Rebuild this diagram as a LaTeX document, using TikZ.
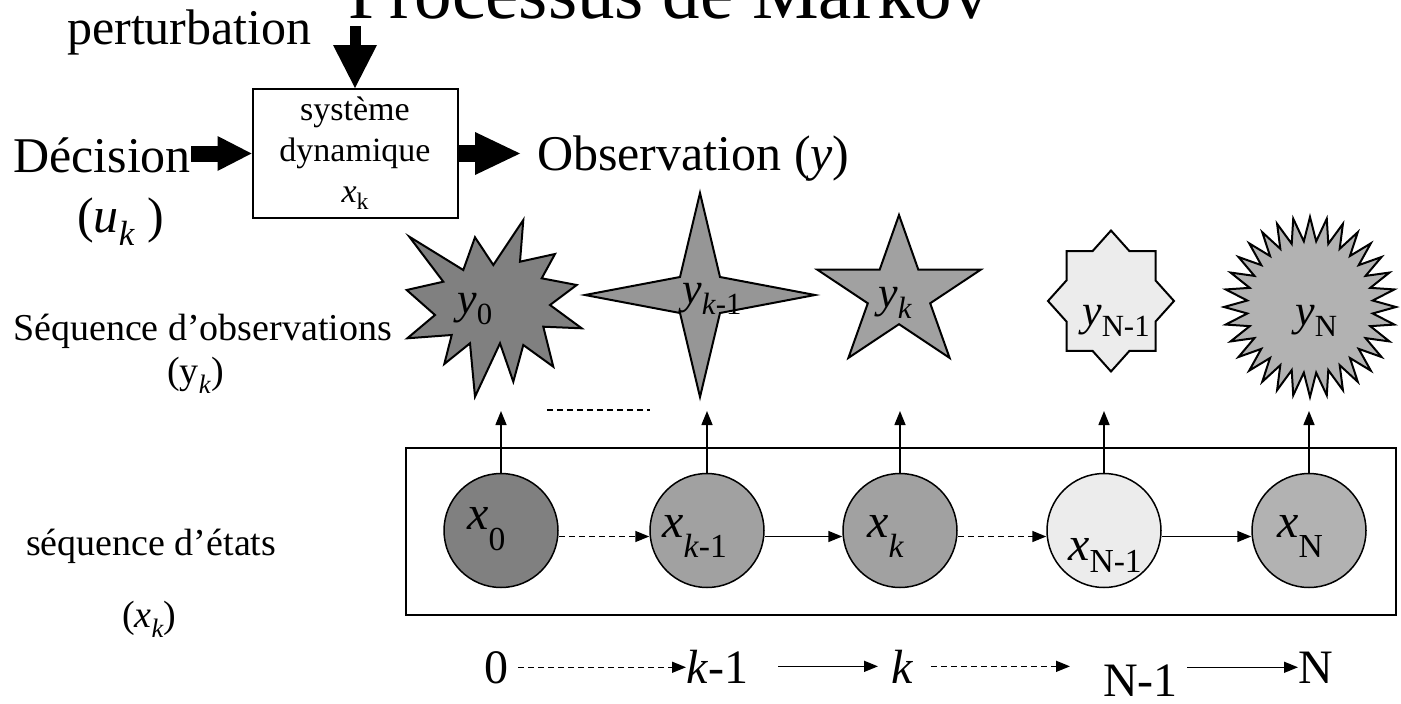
\documentclass[tikz,border=0pt]{standalone}
\usepackage{fontspec}
\setmainfont{Liberation Serif}
\usetikzlibrary{arrows.meta}
% lowered, reduced subscript: optional drop, then the text
\newcommand\sub[2][0.27em]{\raisebox{-#1}{\scalebox{0.7}{#2}}}
\newcommand\pxfont[1]{\fontsize{#1}{1.2\dimexpr#1pt\relax}\selectfont}
\definecolor{gA}{gray}{0.50}
\definecolor{gB}{gray}{0.59}
\definecolor{gC}{gray}{0.63}
\definecolor{gD}{gray}{0.925}
\definecolor{gE}{gray}{0.70}
\begin{document}
\begin{tikzpicture}[x=1pt,y=-1pt,
  lbl/.style={anchor=base west, inner sep=0pt},
  thinline/.style={line width=1.5pt},
  tip/.style={-{Triangle[length=14pt,width=11pt]}},
  dashline/.style={dash pattern=on 6pt off 4pt},
  outline/.style={draw=black, line width=2pt, line join=miter},
  statenode/.style={circle, draw=black, line width=1.5pt, minimum size=114pt, inner sep=0pt},
  fatA/.style={line width=16pt, -{Triangle[length=34pt,width=35pt,line width=0pt]}},
  fatB/.style={line width=17pt, -{Triangle[length=45pt,width=43pt,line width=0pt]}},
  fatC/.style={line width=11pt, -{Triangle[length=43pt,width=44pt,line width=0pt]}}]
\useasboundingbox (0,0) rectangle (1401,704);

% ---------- system block ----------
\node[lbl, font=\pxfont{75}] (title) at (348,18) {Processus de Markov};
\node[lbl, font=\pxfont{50}] (pert) at (67,45) {perturbation};
\node[lbl, font=\pxfont{50}] (dec) at (13,172) {Décision};
\node[lbl, font=\pxfont{50}] (uk) at (77,232) {(\textit{u}\sub{\textit{k}} )};
\node[lbl, font=\pxfont{50}] (obs) at (537,170) {Observation (\textit{y})};
\node[draw=black, line width=2pt, minimum width=205pt, minimum height=129pt,
      inner sep=0pt, align=center, font=\fontsize{34}{41}\selectfont]
  (box) at (355,153.5) {système\\dynamique\\\textit{x}\sub[0.2em]{k}};

\coordinate (ptop) at (355,26);
\draw[fatC] (ptop) -- (box.north);
\draw[fatA] (dec.east |- box.west) -- (box.west);
\draw[fatB, shorten >=17pt] (box.east) -- (obs.west |- box.east);

% ---------- row labels ----------
\node[lbl, font=\pxfont{38}] (obslab) at (13,340) {Séquence d’observations};
\node[lbl, font=\pxfont{38}] (obsvar) at (167,383) {(y\sub{\textit{k}})};
\node[lbl, font=\pxfont{38}] (stlab) at (26,555) {séquence d’états};
\node[lbl, font=\pxfont{38}] (stvar) at (122,627) {(\textit{x}\sub{\textit{k}})};

% ---------- observation shapes ----------
% irregular burst
\coordinate (s0) at (495,310);
\filldraw[outline, fill=gA]
  (409.3,236.7) -- (463.3,270) -- (475,237.3) -- (493.3,265) -- (523.3,220)
  -- (520,261.7) -- (555,254) -- (541.7,278.3) -- (576.7,285) -- (550,305)
  -- (581.7,328.3) -- (543.3,326.7) -- (553.3,366.7) -- (523.3,345)
  -- (513.3,381.7) -- (500,343.3) -- (475,396.7) -- (470,343.3)
  -- (444.3,364) -- (451.7,335) -- (407.3,338.3) -- (435,315)
  -- (406.7,290) -- (443.3,281.7) -- cycle;
% four-point star
\coordinate (s1) at (700,295);
\filldraw[outline, fill=gB]
  (700,193) -- (720,277) -- (815,295) -- (720,313) -- (700,397)
  -- (680,313) -- (585,295) -- (680,277) -- cycle;
% five-point star
\coordinate (s2) at (899,294);
\filldraw[outline, fill=gC]
  (899,215) -- (918.3,269.6) -- (980.8,269.6) -- (930.2,303.3) -- (949.6,357.9)
  -- (899,324.2) -- (848.4,357.9) -- (867.8,303.3) -- (817.2,269.6)
  -- (879.7,269.6) -- cycle;
% eight-point star
\coordinate (s3) at (1111,301);
\filldraw[outline, fill=gD]
  (1111,230.5) -- (1129.5,251.2) -- (1155.5,251.2) -- (1155.5,280.4) -- (1174,301)
  -- (1155.5,321.6) -- (1155.5,350.8) -- (1129.5,350.8) -- (1111,371.5)
  -- (1092.5,350.8) -- (1066.5,350.8) -- (1066.5,321.6) -- (1048,301)
  -- (1066.5,280.4) -- (1066.5,251.2) -- (1092.5,251.2) -- cycle;
% 32-point seal
\coordinate (s4) at (1310,307);
\filldraw[outline, fill=gE] (1310,217)
  \foreach \i in {0,...,31} {
    -- ({1310+63*sin(\i*11.25+5.625)},{307-66*cos(\i*11.25+5.625)})
    -- ({1310+86*sin((\i+1)*11.25)},{307-90*cos((\i+1)*11.25)})
  } -- cycle;

\node[lbl, font=\pxfont{44}] (ly0) at (457,313) {\textit{y}\sub{0}};
\node[lbl, font=\pxfont{44}] (ly1) at (682,303) {\textit{y}\sub{\textit{k}-1}};
\node[lbl, font=\pxfont{44}] (ly2) at (878,307) {\textit{y}\sub{\textit{k}}};
\node[lbl, font=\pxfont{44}] (ly3) at (1082,325) {\textit{y}\sub{N-1}};
\node[lbl, font=\pxfont{44}] (ly4) at (1295,325) {\textit{y}\sub{N}};

\coordinate (d1) at (547,410);
\coordinate (d2) at (650,410);
\draw[thinline, dashline] (d1) -- (d2);

% ---------- state sequence ----------
\node[draw=black, line width=2pt, minimum width=990pt, minimum height=167pt, inner sep=0pt]
  (seq) at (901,531.5) {};

\node[statenode, fill=gA] (c0) at (501,530.5) {};
\node[statenode, fill=gC] (c1) at (707,530.5) {};
\node[statenode, fill=gC] (c2) at (900,530.5) {};
\node[statenode, fill=gD] (c3) at (1104,530.5) {};
\node[statenode, fill=gE] (c4) at (1309,530.5) {};

\node[lbl, font=\pxfont{48}] (lx0) at (467,529) {\textit{x}\sub[0.45em]{0}};
\node[lbl, font=\pxfont{48}] (lx1) at (662,537) {\textit{x}\sub[0.42em]{\textit{k}-1}};
\node[lbl, font=\pxfont{48}] (lx2) at (867,537) {\textit{x}\sub[0.42em]{\textit{k}}};
\node[lbl, font=\pxfont{48}] (lx3) at (1068,560) {\textit{x}\sub[0.25em]{N-1}};
\node[lbl, font=\pxfont{48}] (lx4) at (1277,537) {\textit{x}\sub[0.42em]{N}};

\foreach \c/\x in {c0/501, c1/707, c2/900, c3/1104, c4/1309} {
  \coordinate (up-\c) at (\x,411);
  \draw[thinline, tip] (\c.north) -- (up-\c);
}

\draw[thinline, dashline, tip] ([yshift=-6pt]c0.east) -- ([yshift=-6pt]c1.west);
\draw[thinline, tip] ([yshift=-6pt]c1.east) -- ([yshift=-6pt]c2.west);
\draw[thinline, dashline, tip] ([yshift=-6pt]c2.east) -- ([yshift=-6pt]c3.west);
\draw[thinline, tip] ([yshift=-6pt]c3.east) -- ([yshift=-6pt]c4.west);

% ---------- time axis ----------
\node[lbl, font=\pxfont{48}] (t0) at (484,683) {0};
\node[lbl, font=\pxfont{48}] (t1) at (686,683) {\textit{k}-1};
\node[lbl, font=\pxfont{48}] (t2) at (891,683) {\textit{k}};
\node[lbl, font=\pxfont{48}] (t3) at (1103,696) {N-1};
\node[lbl, font=\pxfont{48}] (t4) at (1298,683) {N};

\draw[thinline, dashline, tip, shorten <=10pt] (t0.east) -- (t1.west |- t0.east);
\draw[thinline, tip, shorten <=30pt, shorten >=13pt] (t1.east) -- (t2.west |- t1.east);
\draw[thinline, dashline, tip, shorten <=18pt, shorten >=33pt] (t2.east) -- (t3.west |- t2.east);
\draw[thinline, tip, shorten <=9pt] (t3.east |- t4.west) -- (t4.west);
\end{tikzpicture}
\end{document}
